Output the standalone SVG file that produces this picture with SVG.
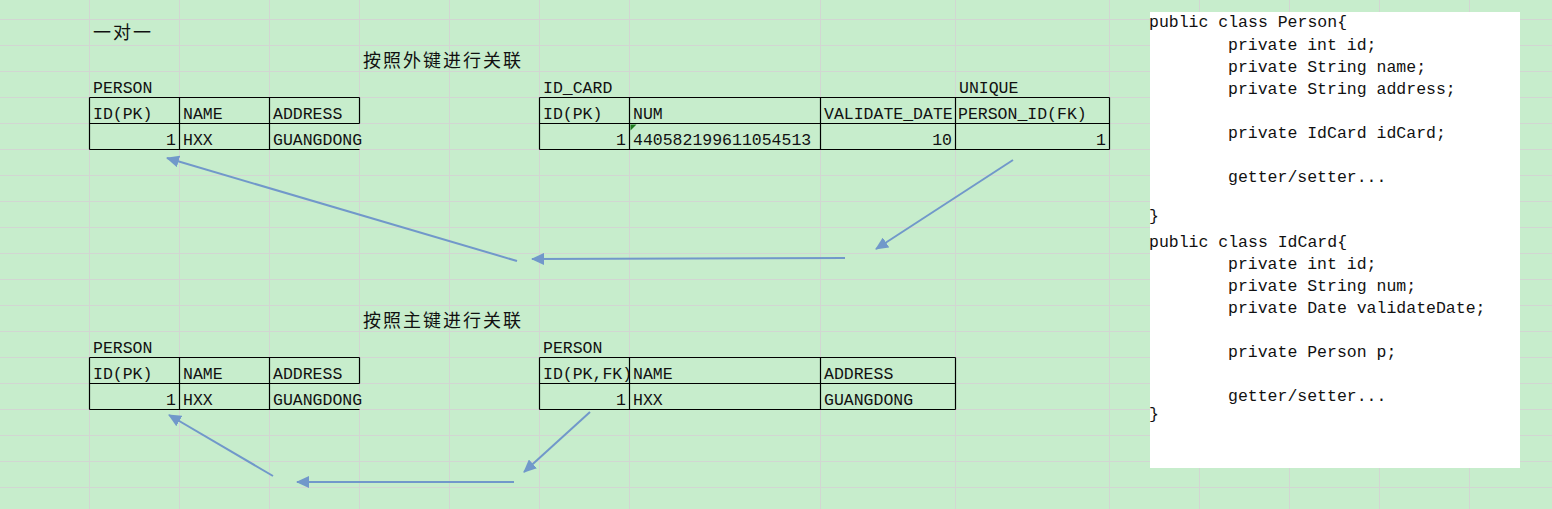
<svg xmlns="http://www.w3.org/2000/svg" width="1552" height="509" viewBox="0 0 1552 509">
<defs>
<style>
.grid line{stroke:#d2d6d2;stroke-width:1}
.tb line{stroke:#000;stroke-width:1.2}
.t{font-family:"Liberation Mono","Noto Sans CJK SC",monospace;font-size:16.5px;fill:#111}
.r{text-anchor:end}
.cn{font-family:"Noto Sans CJK SC",sans-serif;font-size:18px;fill:#111;letter-spacing:2px}
.conn line{stroke:#7198ca;stroke-width:2;fill:none}
</style>
<marker id="ah" markerUnits="userSpaceOnUse" markerWidth="14" markerHeight="12" refX="12" refY="6" orient="auto">
<path d="M0,0 L13,6 L0,12 Z" fill="#7198ca"/>
</marker>
</defs>
<rect width="1552" height="509" fill="#c7edcc"/>
<g class="grid" id="grid">
<line x1="89.5" y1="0" x2="89.5" y2="509"/>
<line x1="179.5" y1="0" x2="179.5" y2="509"/>
<line x1="269.5" y1="0" x2="269.5" y2="509"/>
<line x1="359.5" y1="0" x2="359.5" y2="509"/>
<line x1="449.5" y1="0" x2="449.5" y2="509"/>
<line x1="539.5" y1="0" x2="539.5" y2="509"/>
<line x1="629.5" y1="0" x2="629.5" y2="509"/>
<line x1="820.5" y1="0" x2="820.5" y2="509"/>
<line x1="955.5" y1="0" x2="955.5" y2="509"/>
<line x1="1109.5" y1="0" x2="1109.5" y2="509"/>
<line x1="1199.5" y1="0" x2="1199.5" y2="509"/>
<line x1="1289.5" y1="0" x2="1289.5" y2="509"/>
<line x1="1379.5" y1="0" x2="1379.5" y2="509"/>
<line x1="1469.5" y1="0" x2="1469.5" y2="509"/>
<line x1="0" y1="19.5" x2="1552" y2="19.5"/>
<line x1="0" y1="45.5" x2="1552" y2="45.5"/>
<line x1="0" y1="71.5" x2="1552" y2="71.5"/>
<line x1="0" y1="97.5" x2="1552" y2="97.5"/>
<line x1="0" y1="123.5" x2="1552" y2="123.5"/>
<line x1="0" y1="149.5" x2="1552" y2="149.5"/>
<line x1="0" y1="175.5" x2="1552" y2="175.5"/>
<line x1="0" y1="201.5" x2="1552" y2="201.5"/>
<line x1="0" y1="227.5" x2="1552" y2="227.5"/>
<line x1="0" y1="253.5" x2="1552" y2="253.5"/>
<line x1="0" y1="279.5" x2="1552" y2="279.5"/>
<line x1="0" y1="305.5" x2="1552" y2="305.5"/>
<line x1="0" y1="331.5" x2="1552" y2="331.5"/>
<line x1="0" y1="357.5" x2="1552" y2="357.5"/>
<line x1="0" y1="383.5" x2="1552" y2="383.5"/>
<line x1="0" y1="409.5" x2="1552" y2="409.5"/>
<line x1="0" y1="435.5" x2="1552" y2="435.5"/>
<line x1="0" y1="461.5" x2="1552" y2="461.5"/>
<line x1="0" y1="487.5" x2="1552" y2="487.5"/>
</g>
<g id="titles">
<text class="cn" x="93" y="39">一对一</text>
<text class="cn" x="363" y="67">按照外键进行关联</text>
<text class="cn" x="363" y="327">按照主键进行关联</text>
</g>
<g id="person-fk" class="tb">
<text class="t" x="93" y="93">PERSON</text>
<line x1="89.5" y1="97.5" x2="359.5" y2="97.5"/>
<line x1="89.5" y1="123.5" x2="359.5" y2="123.5"/>
<line x1="89.5" y1="149.5" x2="359.5" y2="149.5"/>
<line x1="89.5" y1="97.5" x2="89.5" y2="149.5"/>
<line x1="179.5" y1="97.5" x2="179.5" y2="149.5"/>
<line x1="269.5" y1="97.5" x2="269.5" y2="149.5"/>
<line x1="359.5" y1="97.5" x2="359.5" y2="123.5"/>
<text class="t" x="93" y="119">ID(PK)</text>
<text class="t" x="183" y="119">NAME</text>
<text class="t" x="273" y="119">ADDRESS</text>
<text class="t r" x="176" y="145">1</text>
<text class="t" x="183" y="145">HXX</text>
<text class="t" x="273" y="145">GUANGDONG</text>
</g>
<g id="id-card" class="tb">
<text class="t" x="543" y="93">ID_CARD</text>
<text class="t" x="959" y="93">UNIQUE</text>
<line x1="539.5" y1="97.5" x2="1109.5" y2="97.5"/>
<line x1="539.5" y1="123.5" x2="1109.5" y2="123.5"/>
<line x1="539.5" y1="149.5" x2="1109.5" y2="149.5"/>
<line x1="539.5" y1="97.5" x2="539.5" y2="149.5"/>
<line x1="629.5" y1="97.5" x2="629.5" y2="149.5"/>
<line x1="820.5" y1="97.5" x2="820.5" y2="149.5"/>
<line x1="955.5" y1="97.5" x2="955.5" y2="149.5"/>
<line x1="1109.5" y1="97.5" x2="1109.5" y2="149.5"/>
<text class="t" x="543" y="119">ID(PK)</text>
<text class="t" x="633" y="119">NUM</text>
<text class="t" x="824" y="119">VALIDATE_DATE</text>
<text class="t" x="958" y="119">PERSON_ID(FK)</text>
<path d="M630.5,124.5 h6 l-6,6 Z" fill="#1e7b1e"/>
<text class="t r" x="626" y="145">1</text>
<text class="t" x="633" y="145">440582199611054513</text>
<text class="t r" x="952" y="145">10</text>
<text class="t r" x="1106" y="145">1</text>
</g>
<g id="person-left-pk" class="tb">
<text class="t" x="93" y="353">PERSON</text>
<line x1="89.5" y1="357.5" x2="359.5" y2="357.5"/>
<line x1="89.5" y1="383.5" x2="359.5" y2="383.5"/>
<line x1="89.5" y1="409.5" x2="359.5" y2="409.5"/>
<line x1="89.5" y1="357.5" x2="89.5" y2="409.5"/>
<line x1="179.5" y1="357.5" x2="179.5" y2="409.5"/>
<line x1="269.5" y1="357.5" x2="269.5" y2="409.5"/>
<line x1="359.5" y1="357.5" x2="359.5" y2="383.5"/>
<text class="t" x="93" y="379">ID(PK)</text>
<text class="t" x="183" y="379">NAME</text>
<text class="t" x="273" y="379">ADDRESS</text>
<text class="t r" x="176" y="405">1</text>
<text class="t" x="183" y="405">HXX</text>
<text class="t" x="273" y="405">GUANGDONG</text>
</g>
<g id="person-right-pk" class="tb">
<text class="t" x="543" y="353">PERSON</text>
<line x1="539.5" y1="357.5" x2="955.5" y2="357.5"/>
<line x1="539.5" y1="383.5" x2="955.5" y2="383.5"/>
<line x1="539.5" y1="409.5" x2="955.5" y2="409.5"/>
<line x1="539.5" y1="357.5" x2="539.5" y2="409.5"/>
<line x1="629.5" y1="357.5" x2="629.5" y2="409.5"/>
<line x1="820.5" y1="357.5" x2="820.5" y2="409.5"/>
<line x1="955.5" y1="357.5" x2="955.5" y2="409.5"/>
<text class="t" x="543" y="379">ID(PK,FK)</text>
<text class="t" x="633" y="379">NAME</text>
<text class="t" x="824" y="379">ADDRESS</text>
<text class="t r" x="626" y="405">1</text>
<text class="t" x="633" y="405">HXX</text>
<text class="t" x="824" y="405">GUANGDONG</text>
</g>
<g id="code">
<rect x="1150" y="12" width="370" height="456" fill="#ffffff"/>
<text class="t" x="1149" y="27">public class Person{</text>
<text class="t" x="1228" y="50">private int id;</text>
<text class="t" x="1228" y="72">private String name;</text>
<text class="t" x="1228" y="94">private String address;</text>
<text class="t" x="1228" y="138">private IdCard idCard;</text>
<text class="t" x="1228" y="182">getter/setter...</text>
<text class="t" x="1149" y="221">}</text>
<text class="t" x="1149" y="247">public class IdCard{</text>
<text class="t" x="1228" y="269">private int id;</text>
<text class="t" x="1228" y="291">private String num;</text>
<text class="t" x="1228" y="313">private Date validateDate;</text>
<text class="t" x="1228" y="357">private Person p;</text>
<text class="t" x="1228" y="401">getter/setter...</text>
<text class="t" x="1149" y="419">}</text>
</g>
<g id="connectors" class="conn">
<line x1="1013" y1="160" x2="876" y2="249" marker-end="url(#ah)"/>
<line x1="845" y1="258" x2="532" y2="259" marker-end="url(#ah)"/>
<line x1="517" y1="261" x2="167" y2="158" marker-end="url(#ah)"/>
<line x1="590" y1="412" x2="524" y2="472" marker-end="url(#ah)"/>
<line x1="514" y1="482" x2="297" y2="482" marker-end="url(#ah)"/>
<line x1="273" y1="476" x2="169" y2="415" marker-end="url(#ah)"/>
</g>
</svg>
